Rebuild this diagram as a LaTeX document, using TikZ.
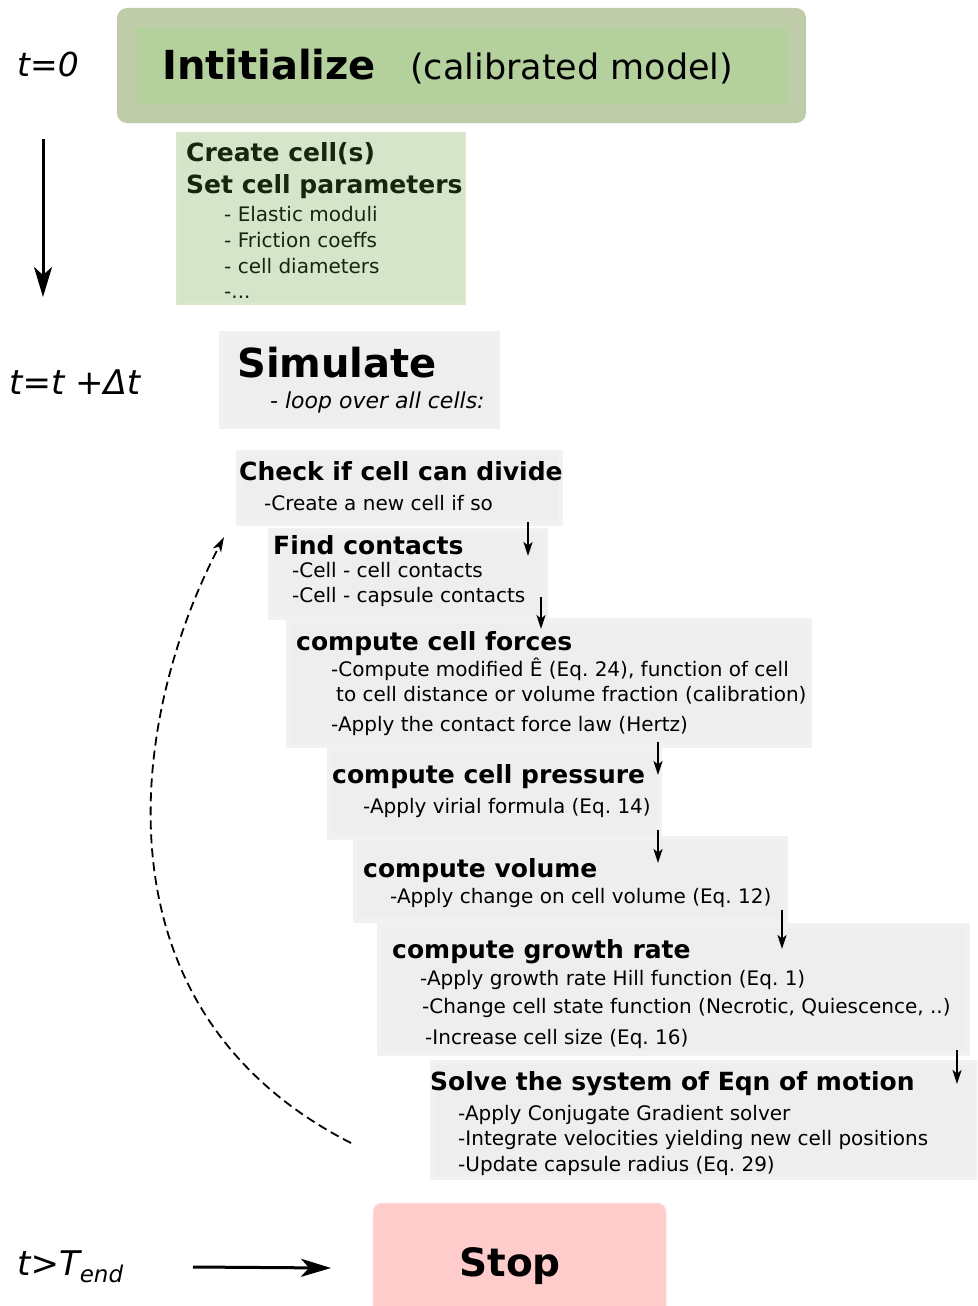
\documentclass[tikz,border=0pt]{standalone}
\usepackage{fontspec}
\setmainfont{DejaVu Sans}
\usetikzlibrary{arrows.meta}
\definecolor{initout}{HTML}{C0CCA9}
\definecolor{initin}{HTML}{B3D09D}
\definecolor{createfill}{HTML}{D6E5C9}
\definecolor{createedge}{HTML}{D9E7CD}
\definecolor{createtext}{HTML}{16250E}
\definecolor{boxfill}{HTML}{EEEEEE}
\definecolor{boxedge}{HTML}{F1F1F1}
\definecolor{stopfill}{HTML}{FFCCCC}
\newcommand\fsz[1]{\fontsize{#1}{#1}\selectfont}
\newcommand\mkbox[6]{%
  \node[#2, minimum width={(#5-#3-5)*1pt}, minimum height={(#6-#4-5)*1pt}] (#1) at ({(#3+#5)/2},{(#4+#6)/2}) {};}
\frenchspacing
\begin{document}
\begin{tikzpicture}[x=1pt,y=-1pt,
  gbox/.style={draw=boxedge, fill=boxfill, line width=5pt, inner sep=0pt, rectangle},
  cbox/.style={draw=createedge, fill=createfill, line width=3pt, inner sep=0pt, rectangle},
  hd/.style={font=\fsz{25}\bfseries, anchor=base west, inner sep=0pt},
  itm/.style={font=\fsz{20}, anchor=base west, inner sep=0pt},
  tlab/.style={font=\fsz{34}\itshape, anchor=base west, inner sep=0pt},
  sarr/.style={line width=2pt, -{Stealth[length=14pt,width=9pt,inset=3.5pt]}},
  barr/.style={line width=3pt, -{Stealth[length=30pt,width=18pt,inset=8pt]}},
  loop/.style={dash pattern=on 9pt off 5pt, line width=1.8pt, -{Stealth[length=15pt,width=9pt,inset=4pt]}}
]
\useasboundingbox (0,0) rectangle (977,1306);
\clip (0,0) rectangle (977,1306);

% Initialize
\node[fill=initout, rounded corners=10pt, minimum width=689pt, minimum height=115pt, inner sep=0pt] (initout) at (461.5,65.5) {};
\node[fill=initin, minimum width=654pt, minimum height=77pt, inner sep=0pt] (initin) at (462,65.5) {};
\node[font=\fsz{40}\bfseries, anchor=base west, inner sep=0pt] (initT) at (162,79) {Intitialize};
\node[font=\fsz{35}, anchor=base west, inner sep=0pt] (initS) at (410,79) {(calibrated model)};

% Create cells
\mkbox{create}{cbox}{175}{131}{467}{306}
\node[hd, text=createtext] (c1) at (186,161) {Create cell(s)};
\node[hd, text=createtext] (c2) at (186,193) {Set cell parameters};
\node[itm, text=createtext] (c3) at (224,221) {- Elastic moduli};
\node[itm, text=createtext] (c4) at (224,247) {- Friction coeffs};
\node[itm, text=createtext] (c5) at (224,273) {- cell diameters};
\node[itm, text=createtext] (c6) at (224,298) {-...};

% gray boxes
\mkbox{sim}{gbox}{219}{331}{500}{429}
\mkbox{check}{gbox}{236}{450}{563}{526}
\mkbox{find}{gbox}{268}{528}{548}{620}
\mkbox{forces}{gbox}{286}{618}{812}{748}
\mkbox{pressure}{gbox}{327}{746}{662}{840}
\mkbox{volume}{gbox}{353}{836}{788}{923}
\mkbox{growth}{gbox}{377}{923}{970}{1056}
\mkbox{solve}{gbox}{430}{1060}{980}{1180}

% Stop box
\node[fill=stopfill, draw=stopfill!60!white, line width=1pt, rounded corners=9pt, minimum width=293pt, minimum height=118pt, inner sep=0pt] (stopbox) at (519.5,1262) {};
\node[font=\fsz{39}\bfseries, anchor=base, inner sep=0pt] (stopT) at (510,1276) {Stop};

% texts
\node[font=\fsz{40}\bfseries, anchor=base west, inner sep=0pt] (simT) at (237,377) {Simulate};
\node[font=\fsz{22}\itshape, anchor=base west, inner sep=0pt] (simS) at (270,408) {- loop over all cells:};

\node[hd] (h1) at (239,480) {Check if cell can divide};
\node[itm] (i11) at (264,510) {-Create a new cell if so};

\node[hd] (h2) at (273,554) {Find contacts};
\node[itm] (i21) at (292,577) {-Cell - cell contacts};
\node[itm] (i22) at (292,602) {-Cell - capsule contacts};

\node[hd] (h3) at (296,650) {compute cell forces};
\node[itm] (i31) at (331,676) {-Compute modified Ê (Eq. 24), function of cell};
\node[itm] (i32) at (336,701) {to cell distance or volume fraction (calibration)};
\node[itm] (i33) at (331,731) {-Apply the contact force law (Hertz)};

\node[hd] (h4) at (332,783) {compute cell pressure};
\node[itm] (i41) at (363,813) {-Apply virial formula (Eq. 14)};

\node[hd] (h5) at (363,877) {compute volume};
\node[itm] (i51) at (390,903) {-Apply change on cell volume (Eq. 12)};

\node[hd] (h6) at (392,958) {compute growth rate};
\node[itm] (i61) at (420,985) {-Apply growth rate Hill function (Eq. 1)};
\node[itm] (i62) at (422,1013) {-Change cell state function (Necrotic, Quiescence, ..)};
\node[itm] (i63) at (425,1044) {-Increase cell size (Eq. 16)};

\node[hd] (h7) at (430,1090) {Solve the system of Eqn of motion};
\node[itm] (i71) at (458,1120) {-Apply Conjugate Gradient solver};
\node[itm] (i72) at (458,1145) {-Integrate velocities yielding new cell positions};
\node[itm] (i73) at (458,1171) {-Update capsule radius (Eq. 29)};

% time labels
\node[tlab, font=\fsz{33}\itshape] (t0) at (17,77) {t=0};
\node[tlab] (tdt) at (9,394) {t=t +Δt};
\node[tlab] (tend) at (17,1275) {t>T\raisebox{-7pt}{\fsz{23}end}};

% big arrows
\coordinate (ta) at (43,139);
\coordinate (tb) at (43,297);
\draw[barr] (ta) -- (tb);
\coordinate (sa) at (193,1267);
\coordinate (sb) at (331,1268);
\draw[barr] (sa) -- (sb);

% small arrows
\coordinate (a1s) at (528,522); \coordinate (a1e) at (528,556);
\coordinate (a2s) at (541,597); \coordinate (a2e) at (541,629);
\coordinate (a3s) at (658,742); \coordinate (a3e) at (658,775);
\coordinate (a4s) at (658,830); \coordinate (a4e) at (658,863);
\coordinate (a5s) at (782,910); \coordinate (a5e) at (782,949);
\coordinate (a6s) at (957,1050); \coordinate (a6e) at (957,1084);
\foreach \i in {1,...,6} {\draw[sarr] (a\i s) -- (a\i e);}

% loop back
\coordinate (lb) at (351,1143);
\coordinate (le) at (224,537);
\draw[loop] (lb) .. controls (90,1010) and (128,720) .. (le);
\end{tikzpicture}
\end{document}
